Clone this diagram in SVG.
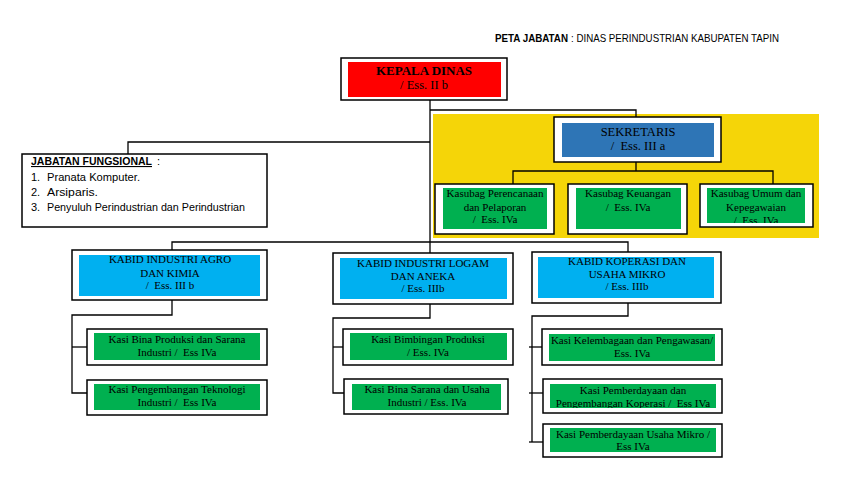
<svg xmlns="http://www.w3.org/2000/svg" width="848" height="494" viewBox="0 0 848 494">
<defs>
<style>
.box{fill:#fff;stroke:#000;stroke-width:1.5}
.ln{fill:none;stroke:#000;stroke-width:1.3}
.red{fill:#FF0000}
.dblue{fill:#2E75B6}
.lblue{fill:#00B0F0}
.green{fill:#00B050}
.t{font-family:"Liberation Serif","Times New Roman",serif;font-size:11px;text-anchor:middle;fill:#000;white-space:pre}
.s{font-family:"Liberation Sans",Arial,sans-serif;font-size:11px;fill:#000;white-space:pre}
</style>
<clipPath id="c1"><rect x="707" y="188" width="98" height="35"/></clipPath>
<clipPath id="c2"><rect x="550" y="384" width="166" height="24"/></clipPath>
</defs>
<rect width="848" height="494" fill="#fff"/>

<g id="title">
<text class="s" x="495" y="42" style="font-weight:bold" textLength="73" lengthAdjust="spacingAndGlyphs">PETA JABATAN</text>
<text class="s" x="571" y="42" textLength="208" lengthAdjust="spacingAndGlyphs">: DINAS PERINDUSTRIAN KABUPATEN TAPIN</text>
</g>

<g id="sekretariat-area">
<rect x="433" y="114" width="386" height="124" fill="#F5D508"/>
</g>

<g id="connectors">
<path class="ln" d="M430,100 V253"/>
<path class="ln" d="M430,110 H636 V117"/>
<path class="ln" d="M128,154 V142 H430"/>
<path class="ln" d="M172,250 V242 H628 V252"/>
<path class="ln" d="M636,162 V171"/>
<path class="ln" d="M513,184 V171 H773 V184"/>
<path class="ln" d="M172,300 V315 H72 V393 H87"/>
<path class="ln" d="M72,347 H87"/>
<path class="ln" d="M430,304 V318 H333 V393 H344"/>
<path class="ln" d="M333,347 H343"/>
<path class="ln" d="M628,303 V316 H532 V442"/>
<path class="ln" d="M529,347 H542"/>
<path class="ln" d="M529,393 H543"/>
<path class="ln" d="M529,442 H545"/>
</g>

<g id="kepala-dinas">
<rect class="box" x="341" y="58" width="166" height="42"/>
<rect class="red" x="348" y="62" width="153" height="35"/>
<text class="t" x="424" y="75" style="font-size:13px;font-weight:bold">KEPALA DINAS</text>
<text class="t" x="424" y="89" style="font-size:12.5px">/ Ess. II b</text>
</g>

<g id="sekretaris">
<rect class="box" x="554" y="117" width="167" height="45"/>
<rect class="dblue" x="562" y="123" width="152" height="34"/>
<text class="t" x="638" y="136" style="font-size:12.5px">SEKRETARIS</text>
<text class="t" x="638" y="150" style="font-size:12.5px">/  Ess. III a</text>
</g>

<g id="kasubag-perencanaan">
<rect class="box" x="435" y="184" width="119" height="50"/>
<rect class="green" x="443" y="188" width="104" height="41"/>
<text class="t" x="495" y="197">Kasubag Perencanaan</text>
<text class="t" x="495" y="211">dan Pelaporan</text>
<text class="t" x="495" y="223">/  Ess. IVa</text>
</g>

<g id="kasubag-keuangan">
<rect class="box" x="568" y="184" width="119" height="50"/>
<rect class="green" x="576" y="188" width="105" height="41"/>
<text class="t" x="628" y="197">Kasubag Keuangan</text>
<text class="t" x="628" y="211">/  Ess. IVa</text>
</g>

<g id="kasubag-umum">
<rect class="box" x="700" y="184" width="113" height="43"/>
<rect class="green" x="707" y="188" width="98" height="35"/>
<g clip-path="url(#c1)">
<text class="t" x="756" y="197">Kasubag Umum dan</text>
<text class="t" x="756" y="211">Kepegawaian</text>
<text class="t" x="756" y="224">/  Ess. IVa</text>
</g>
</g>

<g id="jabatan-fungsional">
<rect class="box" x="22" y="154" width="245" height="73"/>
<text class="s" x="31" y="165" style="font-weight:bold;text-decoration:underline" textLength="121" lengthAdjust="spacingAndGlyphs">JABATAN FUNGSIONAL</text>
<text class="s" x="157" y="165">:</text>
<text class="s" x="31" y="181">1.</text>
<text class="s" x="47" y="181" textLength="93" lengthAdjust="spacingAndGlyphs">Pranata Komputer.</text>
<text class="s" x="31" y="196">2.</text>
<text class="s" x="47" y="196" textLength="51" lengthAdjust="spacingAndGlyphs">Arsiparis.</text>
<text class="s" x="31" y="211">3.</text>
<text class="s" x="47" y="211" textLength="198" lengthAdjust="spacingAndGlyphs">Penyuluh Perindustrian dan Perindustrian</text>
</g>

<g id="kabid-agro">
<rect class="box" x="72" y="250" width="195" height="50"/>
<rect class="lblue" x="79" y="255" width="181" height="41"/>
<text class="t" x="170" y="263">KABID INDUSTRI AGRO</text>
<text class="t" x="170" y="277">DAN KIMIA</text>
<text class="t" x="170" y="289">/  Ess. III b</text>
</g>

<g id="kabid-logam">
<rect class="box" x="333" y="253" width="180" height="51"/>
<rect class="lblue" x="340" y="258" width="167" height="41"/>
<text class="t" x="423" y="267">KABID INDUSTRI LOGAM</text>
<text class="t" x="423" y="280">DAN ANEKA</text>
<text class="t" x="423" y="292">/ Ess. IIIb</text>
</g>

<g id="kabid-koperasi">
<rect class="box" x="532" y="252" width="189" height="51"/>
<rect class="lblue" x="538" y="257" width="176" height="41"/>
<text class="t" x="627" y="265">KABID KOPERASI DAN</text>
<text class="t" x="627" y="278">USAHA MIKRO</text>
<text class="t" x="627" y="290">/ Ess. IIIb</text>
</g>

<g id="kasi-bina-produksi">
<rect class="box" x="87" y="329" width="180" height="36"/>
<rect class="green" x="94" y="333" width="166" height="27"/>
<text class="t" x="177" y="343">Kasi Bina Produksi dan Sarana</text>
<text class="t" x="177" y="356">Industri /  Ess IVa</text>
</g>

<g id="kasi-pengembangan-teknologi">
<rect class="box" x="87" y="380" width="180" height="35"/>
<rect class="green" x="94" y="384" width="166" height="26"/>
<text class="t" x="177" y="393">Kasi Pengembangan Teknologi</text>
<text class="t" x="177" y="406">Industri /  Ess IVa</text>
</g>

<g id="kasi-bimbingan-produksi">
<rect class="box" x="343" y="329" width="170" height="36"/>
<rect class="green" x="350" y="333" width="157" height="27"/>
<text class="t" x="428" y="343">Kasi Bimbingan Produksi</text>
<text class="t" x="428" y="356">/ Ess. IVa</text>
</g>

<g id="kasi-bina-sarana">
<rect class="box" x="344" y="379" width="164" height="35"/>
<rect class="green" x="352" y="384" width="149" height="26"/>
<text class="t" x="427" y="393">Kasi Bina Sarana dan Usaha</text>
<text class="t" x="427" y="406">Industri / Ess. IVa</text>
</g>

<g id="kasi-kelembagaan">
<rect class="box" x="542" y="329" width="180" height="36"/>
<rect class="green" x="549" y="334" width="166" height="27"/>
<text class="t" x="632" y="344">Kasi Kelembagaan dan Pengawasan/</text>
<text class="t" x="632" y="357">Ess. IVa</text>
</g>

<g id="kasi-pemberdayaan-koperasi">
<rect class="box" x="543" y="379" width="179" height="34"/>
<rect class="green" x="550" y="384" width="166" height="24"/>
<g clip-path="url(#c2)">
<text class="t" x="633" y="394">Kasi Pemberdayaan dan</text>
<text class="t" x="633" y="407">Pengembangan Koperasi /  Ess IVa</text>
</g>
</g>

<g id="kasi-pemberdayaan-usaha-mikro">
<rect class="box" x="543" y="424" width="179" height="33"/>
<rect class="green" x="550" y="428" width="166" height="24"/>
<text class="t" x="633" y="438">Kasi Pemberdayaan Usaha Mikro /</text>
<text class="t" x="633" y="450">Ess IVa</text>
</g>
</svg>
